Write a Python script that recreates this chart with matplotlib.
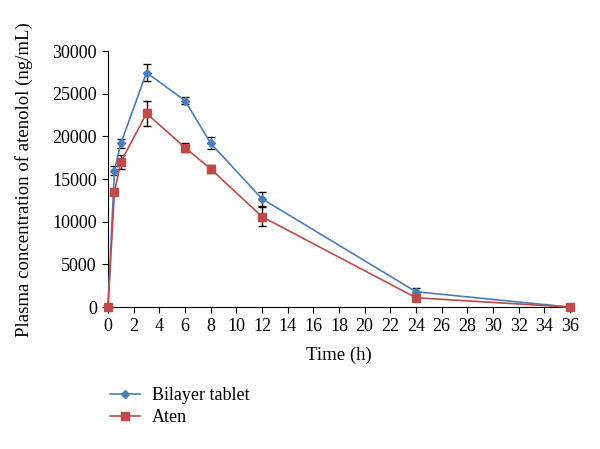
import matplotlib
matplotlib.use("Agg")
import matplotlib.pyplot as plt

time_h = [0, 0.5, 1, 3, 6, 8, 12, 24, 36]
bilayer = [0, 16000, 19200, 27500, 24200, 19200, 12700, 1800, 0]
bilayer_err = [0, 500, 500, 1000, 400, 700, 800, 400, 0]
aten = [0, 13500, 17000, 22700, 18700, 16200, 10600, 1100, 0]
aten_err = [0, 300, 800, 1500, 500, 500, 1100, 200, 0]
xticks = list(range(0, 37, 2))
yticks = list(range(0, 30001, 5000))

plt.rcParams['font.family'] = ['Liberation Serif', 'DejaVu Serif']
fig = plt.figure(figsize=(6, 4.49), dpi=100)
ax = fig.add_axes([0.18, 0.316, 0.77, 0.57])

blue = '#4a7ebb'
red = '#be4b48'
eb1 = ax.errorbar(time_h, bilayer, yerr=bilayer_err, color=blue, marker='D', markersize=4,
                  lw=1.2, ecolor='black', elinewidth=1, capsize=3, zorder=3)
eb2 = ax.errorbar(time_h, aten, yerr=aten_err, color=red, marker='s', markersize=6,
                  lw=1.2, ecolor='black', elinewidth=1, capsize=3, zorder=3)
for eb in (eb1, eb2):
    eb[0].set_clip_on(False)

ax.set_xlim(0, 36)
ax.set_ylim(0, 30000)
ax.set_xticks(xticks)
ax.set_yticks(yticks)
ax.tick_params(labelsize=13, direction='out', length=4, pad=4)
ax.spines['top'].set_visible(False)
ax.spines['right'].set_visible(False)
ax.set_xlabel('Time (h)', fontsize=13.5, labelpad=8)
ax.set_ylabel('Plasma concentration of atenolol (ng/mL)', fontsize=13.5, labelpad=14)

fig.legend([eb1[0], eb2[0]], ['Bilayer tablet', 'Aten'], loc='upper left',
           bbox_to_anchor=(0.183, 0.137), frameon=False, fontsize=13,
           handlelength=1.7, handletextpad=0.65, labelspacing=0.25,
           borderpad=0, borderaxespad=0)

fig.savefig('out.png', dpi=100)
